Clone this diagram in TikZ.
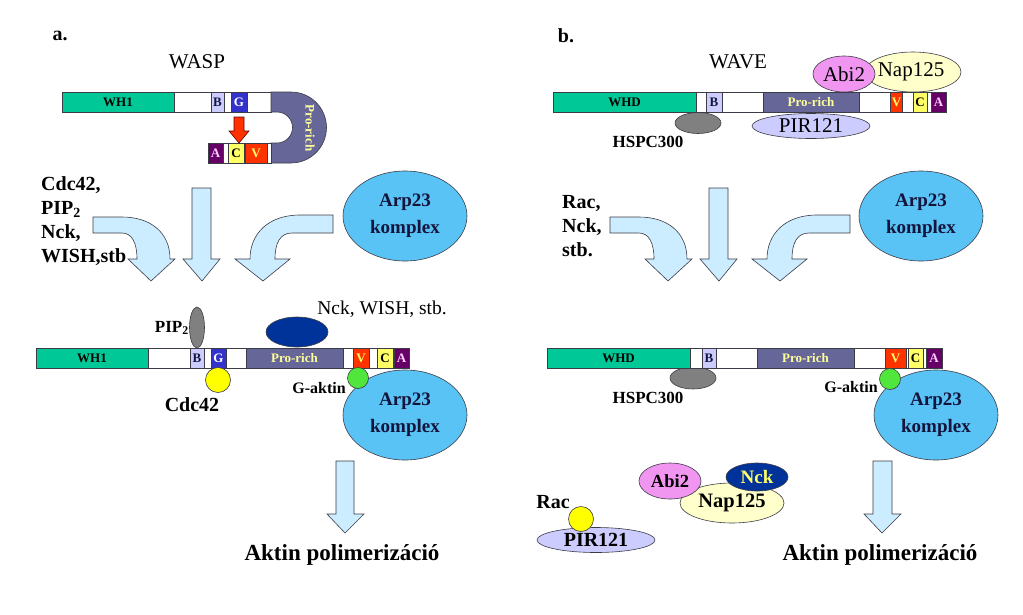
\documentclass[tikz,border=0pt]{standalone}
\usepackage{fontspec}
\setmainfont{Liberation Serif}
\usetikzlibrary{shapes.geometric}
\definecolor{lineC}{RGB}{60,60,70}
\definecolor{whC}{RGB}{0,200,150}
\definecolor{arrowC}{RGB}{204,236,255}
\definecolor{arpC}{RGB}{90,195,245}
\definecolor{proC}{RGB}{102,102,153}
\definecolor{proT}{RGB}{255,255,153}
\definecolor{bC}{RGB}{204,204,255}
\definecolor{gC}{RGB}{51,51,204}
\definecolor{vC}{RGB}{255,51,0}
\definecolor{cC}{RGB}{255,255,102}
\definecolor{aC}{RGB}{102,0,102}
\definecolor{aT}{RGB}{255,204,255}
\definecolor{pirC}{RGB}{204,204,255}
\definecolor{abiC}{RGB}{240,150,240}
\definecolor{napC}{RGB}{255,255,204}
\definecolor{nckC}{RGB}{0,51,153}
\definecolor{greyC}{RGB}{128,128,128}
\definecolor{yelC}{RGB}{255,255,0}
\definecolor{grnC}{RGB}{80,230,60}
\definecolor{navyT}{RGB}{20,20,60}
\tikzset{
  seg/.style={draw=lineC, line width=0.6pt, minimum height=20pt, inner sep=0pt, font=\fontsize{13}{13}\selectfont\bfseries},
  blob/.style={ellipse, draw=lineC, line width=0.6pt, inner sep=0pt},
  dot/.style={circle, draw=lineC, line width=0.6pt, inner sep=0pt},
  bigarrow/.style={fill=arrowC, draw=lineC, line width=0.6pt},
  lbl/.style={font=\fontsize{20}{24}\selectfont\bfseries, inner sep=0pt},
  small/.style={font=\fontsize{16}{16}\selectfont\bfseries, inner sep=0pt},
  arptext/.style={font=\fontsize{19}{27}\selectfont\bfseries, text=navyT, align=center},
  title/.style={font=\fontsize{20}{20}\selectfont\bfseries, inner sep=0pt},
  heading/.style={font=\fontsize{21}{21}\selectfont, inner sep=0pt},
  result/.style={font=\fontsize{23}{23}\selectfont\bfseries, inner sep=0pt},
}
\newcommand\mytoparrows{%
  \draw[bigarrow] (93,217) -- (122,217) .. controls (150,217) and (170,232) .. (170,259) -- (175,259) -- (151,281) -- (128,259) -- (137,259) .. controls (137,243) and (132,233) .. (122,233) -- (93,233) -- cycle;
  \draw[bigarrow] (192,188) -- (211,188) -- (211,259) -- (220,259) -- (202,281) -- (183,259) -- (192,259) -- cycle;
  \draw[bigarrow] (333,215) -- (300,215) .. controls (268,215) and (250,234) .. (250,259) -- (235,259) -- (263,281) -- (290,259) -- (275,259) .. controls (275,243) and (280,233) .. (292,233) -- (333,233) -- cycle;
}
\begin{document}
\begin{tikzpicture}[x=1pt,y=-1pt]
\useasboundingbox[fill=white] (0,0) rectangle (1023,614);

% ================= panel a =================
\node[title] (la) at (60,36) {a.};
\node[heading] (wasp) at (197,62) {WASP};

% top WASP bar
\node[seg, fill=white, minimum width=209pt, anchor=west] (barA) at (62,102) {};
\node[seg, fill=whC, minimum width=112pt] (wh1a) at (118,102) {WH1};
\node[seg, fill=bC, minimum width=13pt, text=navyT] (ba) at (217.5,102) {B};
\node[seg, fill=gC, minimum width=16pt, text=white] (ga) at (239,102) {G};
\draw[fill=proC, draw=lineC, line width=0.6pt] (271,92) -- (291,92) .. controls (310.6,92) and (326.5,107.9) .. (326.5,127.5) .. controls (326.5,147.1) and (310.6,163) .. (291,163) -- (271,163) -- (271,143) -- (277,143) .. controls (285.6,143) and (292.5,136.1) .. (292.5,127.5) .. controls (292.5,118.9) and (285.6,112) .. (277,112) -- (271,112) -- cycle;
\node[rotate=-90, text=proT, font=\fontsize{13}{13}\selectfont\bfseries, inner sep=0pt] (proU) at (310,128) {Pro-rich};
\node[seg, fill=white, minimum width=63pt, anchor=west] (lowA) at (208,153) {};
\node[seg, fill=aC, minimum width=15pt, text=aT] (aa) at (215.5,153) {A};
\node[seg, fill=cC, minimum width=16pt] (ca) at (236,153) {C};
\node[seg, fill=vC, minimum width=22pt, text=cC] (va) at (256,153) {V};
\draw[fill=vC, draw=red!40!black, line width=0.6pt] (234,117) -- (244,117) -- (244,131) -- (249,131) -- (239,143) -- (229,131) -- (234,131) -- cycle;

% middle
\node[lbl, align=left, anchor=west] (inA) at (41,221) {Cdc42,\\PIP\textsubscript{2}\\Nck,\\WISH,stb};
\mytoparrows
\node[blob, fill=arpC, minimum width=124pt, minimum height=90pt, arptext] (arpTa) at (405,216) {Arp23\\komplex};

% bottom bar a
\node[blob, fill=greyC, minimum width=15pt, minimum height=41pt] (pip) at (197,327.5) {};
\node[small, anchor=east, font=\fontsize{17}{17}\selectfont\bfseries] (pipl) at (189,328) {PIP\textsubscript{2}};
\node[blob, fill=nckC, minimum width=62pt, minimum height=30pt] (nckA) at (297,332) {};
\node[font=\fontsize{19.5}{19.5}\selectfont, inner sep=0pt] (nckl) at (382,309) {Nck, WISH, stb.};
\node[seg, fill=white, minimum width=373pt, anchor=west] (barA2) at (36,358) {};
\node[seg, fill=whC, minimum width=112pt] (wh1b) at (92,358) {WH1};
\node[seg, fill=bC, minimum width=14pt, text=navyT] (bb) at (197,358) {B};
\node[seg, fill=gC, minimum width=15pt, text=white] (gb) at (218.5,358) {G};
\node[seg, fill=proC, minimum width=97pt, text=proT] (prob) at (294.5,358) {Pro-rich};
\node[seg, fill=vC, minimum width=16pt, text=cC] (vb) at (361,358) {V};
\node[seg, fill=cC, minimum width=16pt] (cb) at (385,358) {C};
\node[seg, fill=aC, minimum width=15pt, text=aT] (ab) at (401.5,358) {A};
\node[dot, fill=yelC, minimum size=25pt] (cdc) at (218,380) {};
\node[lbl] (cdcl) at (192,405) {Cdc42};
\node[blob, fill=arpC, minimum width=124pt, minimum height=90pt, arptext] (arpBa) at (405,415) {Arp23\\komplex};
\node[dot, fill=grnC, minimum size=21pt] (gact) at (358,378) {};
\node[small, anchor=east] (gactl) at (346,388) {G-aktin};
\draw[bigarrow] (336,461) -- (354,461) -- (354,514) -- (364,514) -- (345,533) -- (327,514) -- (336,514) -- cycle;
\node[result] (aktA) at (342,555) {Aktin polimerizáció};

% ================= panel b =================
\node[title] (lb) at (566,36) {b.};
\node[heading] (wave) at (738,62) {WAVE};

\node[blob, fill=greyC, minimum width=46pt, minimum height=21pt] (hspc) at (698,123) {};
\node[blob, fill=pirC, minimum width=118pt, minimum height=25pt, font=\fontsize{21}{21}\selectfont] (pir) at (811,126) {PIR121};
\node[seg, fill=white, minimum width=393pt, anchor=west] (barB) at (553,102) {};
\node[seg, fill=whC, minimum width=143pt] (whd) at (624.5,102) {WHD};
\node[seg, fill=bC, minimum width=16pt, text=navyT] (bB) at (714,102) {B};
\node[seg, fill=proC, minimum width=96pt, text=proT] (proB) at (811,102) {Pro-rich};
\node[seg, fill=vC, minimum width=12pt, text=cC] (vB) at (896.5,102) {V};
\node[seg, fill=cC, minimum width=14pt] (cB) at (920,102) {C};
\node[seg, fill=aC, minimum width=15pt, text=aT] (aB) at (938.5,102) {A};
\node[blob, fill=napC, minimum width=96pt, minimum height=40pt] (nap) at (913,72) {};
\node[font=\fontsize{21}{21}\selectfont, inner sep=0pt] (napl) at (911,72) {Nap125};
\node[blob, fill=abiC, minimum width=62pt, minimum height=36pt, font=\fontsize{21}{21}\selectfont] (abi) at (844,74) {Abi2};
\node[small, font=\fontsize{17}{17}\selectfont\bfseries] (hspcl) at (648,142) {HSPC300};

\node[lbl, align=left, anchor=west] (inB) at (562,226) {Rac,\\Nck,\\stb.};
\begin{scope}[xshift=517pt]
\mytoparrows
\end{scope}
\node[blob, fill=arpC, minimum width=124pt, minimum height=90pt, arptext] (arpTb) at (921,216) {Arp23\\komplex};

% bottom bar b
\node[blob, fill=greyC, minimum width=46pt, minimum height=22pt] (hspc2) at (693,378) {};
\node[seg, fill=white, minimum width=395pt, anchor=west] (barB2) at (547,358) {};
\node[seg, fill=whC, minimum width=143pt] (whd2) at (618.5,358) {WHD};
\node[seg, fill=bC, minimum width=14pt, text=navyT] (bB2) at (709,358) {B};
\node[seg, fill=proC, minimum width=97pt, text=proT] (proB2) at (805.5,358) {Pro-rich};
\node[seg, fill=vC, minimum width=21pt, text=cC] (vB2) at (895.5,358) {V};
\node[seg, fill=cC, minimum width=15pt] (cB2) at (915.5,358) {C};
\node[seg, fill=aC, minimum width=16pt, text=aT] (aB2) at (934,358) {A};
\node[small, font=\fontsize{17}{17}\selectfont\bfseries] (hspcl2) at (648,398) {HSPC300};
\node[blob, fill=arpC, minimum width=124pt, minimum height=90pt, arptext] (arpBb) at (936,415) {Arp23\\komplex};
\node[dot, fill=grnC, minimum size=21pt] (gact2) at (890,379) {};
\node[small, anchor=east] (gactl2) at (878,387) {G-aktin};
\draw[bigarrow] (873,461) -- (892,461) -- (892,514) -- (901,514) -- (882,533) -- (864,514) -- (873,514) -- cycle;
\node[result] (aktB) at (880,555) {Aktin polimerizáció};

% free complex
\node[blob, fill=pirC, minimum width=118pt, minimum height=25pt, font=\fontsize{20}{20}\selectfont\bfseries] (pir2) at (596,540) {PIR121};
\node[dot, fill=yelC, minimum size=25pt] (rac) at (581,519) {};
\node[lbl] (racl) at (553,502) {Rac};
\node[blob, fill=napC, minimum width=104pt, minimum height=40pt, font=\fontsize{20.5}{20.5}\selectfont\bfseries] (nap2) at (732,503) {Nap125};
\node[blob, fill=abiC, minimum width=62pt, minimum height=36pt, font=\fontsize{18.5}{18.5}\selectfont\bfseries] (abi2) at (670,481) {Abi2};
\node[blob, fill=nckC, minimum width=62pt, minimum height=28pt, font=\fontsize{19}{19}\selectfont\bfseries, text=cC] (nck2) at (757,477) {Nck};
\end{tikzpicture}
\end{document}
